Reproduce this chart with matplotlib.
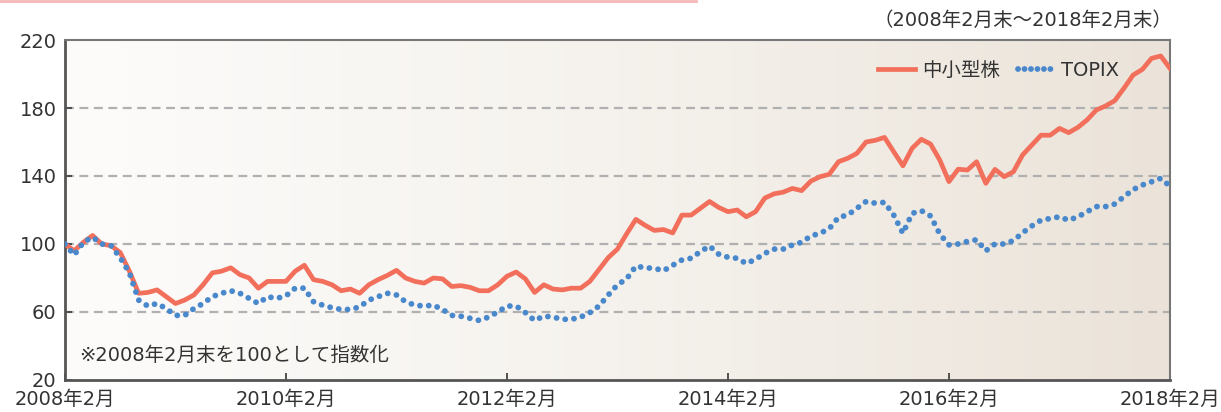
import matplotlib.pyplot as plt
import numpy as np
from matplotlib.colors import LinearSegmentedColormap
from matplotlib.lines import Line2D

plt.rcParams['font.family'] = ['DejaVu Sans', 'Noto Sans CJK JP']

# monthly index values, 2008/02 = 100 (121 points, Feb 2008 .. Feb 2018)
small_mid = [100, 96, 101, 105, 100, 99, 95, 84, 71, 71.5,
             73, 69, 65, 67, 70, 76, 83, 84, 86, 82,
             80, 74, 78, 78, 78, 84, 87.5, 79, 78, 76,
             72.5, 73.5, 71, 76, 79, 81.5, 84.5, 80, 78, 77,
             80, 79.5, 75, 75.5, 74.5, 72.5, 72.5, 76, 81, 83.5,
             79.5, 71.5, 76, 73.5, 73, 74, 74, 78, 85, 92,
             97, 106, 114.5, 111, 108, 108.5, 106.5, 117, 117, 121,
             125, 121.5, 119, 120, 116, 119, 127, 129.5, 130.5, 132.7,
             131.4, 137, 139.6, 141, 148.4, 150.4, 153.3, 160, 161, 162.7,
             154.3, 146, 156.3, 161.6, 158.8, 149.4, 136.7, 144, 143.5, 148.4,
             135.7, 143.9, 139.6, 142.5, 152.4, 158.2, 164, 164, 168, 165.5,
             168.6, 173, 178.8, 181.2, 184.3, 191.6, 199.4, 202.7, 209.2, 210.6,
             203.3]
topix = [100, 93.5, 101, 104, 100, 99, 92, 83, 67, 63.5,
         65, 62, 58, 58, 62, 65, 69, 71, 72.5, 71,
         68, 65, 69, 68, 69.5, 74, 74, 66, 64, 62.5,
         61.5, 61.5, 63, 67, 69, 71, 70, 66, 64, 63.5,
         64, 61.5, 58, 57.5, 56.3, 55, 57, 60, 63.5, 63.5,
         59.6, 55, 57.6, 57, 55.7, 55.7, 57, 59.6, 63.5, 70,
         76, 79.5, 87, 86, 85.7, 84.3, 87.5, 90.6, 91.6, 95.5,
         98.8, 94, 92.2, 91.6, 88.5, 91, 94.5, 97, 97, 99.4,
         101, 104.7, 106.3, 109, 115.7, 117, 121, 125, 124, 124.5,
         117, 106.3, 118, 119.6, 116.5, 105.9, 99.5, 100, 101.5, 102.5,
         96, 100, 100, 102, 106.6, 110.6, 114, 115, 116, 114,
         116, 119, 122, 122, 123.5, 127.8, 132, 134.7, 136.6, 138.6,
         134]
tick_months = [0, 24, 48, 72, 96, 120]
tick_labels = ['2008年2月', '2010年2月', '2012年2月', '2014年2月', '2016年2月', '2018年2月']
y_ticks = [20, 60, 100, 140, 180, 220]

months = np.arange(len(small_mid))

fig = plt.figure(figsize=(12.21, 4.12), dpi=100)
ax = fig.add_axes([0.0532, 0.0777, 0.905, 0.8252])

# background gradient, white-ish to beige
cmap = LinearSegmentedColormap.from_list('bg', ['#fdfcfb', '#f5f2ed', '#ebe3d9'])
grad = np.linspace(0, 1, 256).reshape(1, -1)
ax.imshow(grad, cmap=cmap, aspect='auto', extent=[0, 120, 20, 220], zorder=0)

for v in [60, 100, 140, 180]:
    ax.axhline(v, color='#b0b0b0', lw=1.6, ls=(0, (4, 2.5)), zorder=1)

ax.plot(months, small_mid, color='#f26f5c', lw=3.4, solid_joinstyle='round', zorder=3)
ax.plot(months, topix, color='#4a88cc', lw=4.2, ls=(0, (0.01, 1.5)),
        dash_capstyle='round', zorder=4)

ax.set_xlim(0, 120)
ax.set_ylim(20, 220)
ax.set_yticks(y_ticks)
ax.set_xticks(tick_months)
ax.set_xticklabels(tick_labels)
ax.tick_params(axis='both', direction='in', length=5, width=1.3, color='#444444',
               labelsize=14, labelcolor='#333333')
ax.tick_params(axis='x', pad=7)
ax.tick_params(axis='y', pad=6)

for side in ['left', 'bottom']:
    ax.spines[side].set_color('#555555')
    ax.spines[side].set_linewidth(2)
for side in ['top', 'right']:
    ax.spines[side].set_color('#777777')
    ax.spines[side].set_linewidth(1.5)

handles = [Line2D([], [], color='#f26f5c', lw=3.4),
           Line2D([], [], color='#4a88cc', lw=4.2, ls=(0, (0.01, 1.1)), dash_capstyle='round')]
ax.legend(handles, ['中小型株', 'TOPIX'], loc='upper right', bbox_to_anchor=(0.97, 0.99),
          ncol=2, frameon=False, fontsize=14, handlelength=1.9, handletextpad=0.35,
          columnspacing=0.9, labelcolor='#333333')

ax.text(1.5, 34.5, '※2008年2月末を100として指数化', fontsize=14, color='#333333',
        va='center', ha='left', zorder=5)
fig.text(0.96, 0.951, '（2008年2月末～2018年2月末）', fontsize=14, color='#333333',
         ha='right', va='center')

# faint pink rule at the very top
fig.add_artist(Line2D([0, 0.57], [0.998, 0.998], color='#f6b8b8', lw=2))

fig.savefig('out.png', dpi=100)
